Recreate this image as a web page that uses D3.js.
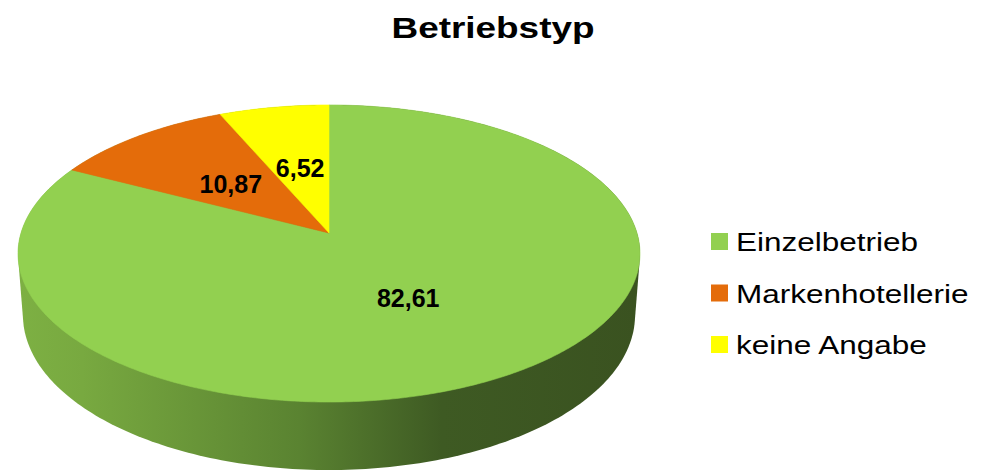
<!DOCTYPE html>
<html>
<head>
<meta charset="utf-8">
<script src="https://cdn.jsdelivr.net/npm/d3@7"></script>
<style>
  html, body { margin: 0; padding: 0; background: #fff; }
  svg { display: block; font-family: Arial, "Liberation Sans", sans-serif; }
</style>
</head>
<body>
<svg id="chart" width="986" height="475"></svg>
<script>
// Betriebstyp - 3D pie (Excel style) drawn with D3
var title = "Betriebstyp";
var categories = ["Einzelbetrieb", "Markenhotellerie", "keine Angabe"];
var values = [82.61, 10.87, 6.52];
var labels = ["82,61", "10,87", "6,52"];
var colors = ["#92d050", "#e46c0a", "#ffff00"];

var W = 986, H = 475;
var svg = d3.select("#chart");

// the source image is a bit wider than tall: text gets the same horizontal stretch
function stretch(sel, k) {
  var n = sel.node(), len = n.getComputedTextLength();
  sel.attr("textLength", len * k).attr("lengthAdjust", "spacingAndGlyphs");
  return sel;
}

// perspective projection of a unit disk (u right, v towards viewer, z down 0..1)
var cx = 329, cy = 233, A = 308, B = 145.7, P = 0.138, DEPTH = 62.4, SHRINK = 0.016;
function proj(t, r, z) {
  var u = r * Math.sin(t), v = -r * Math.cos(t);
  var w = 1 - P * v + SHRINK * z;
  return [cx + A * u / w, cy + (B * v + DEPTH * z) / w];
}

var pie = d3.pie().sort(null).value(function (d) { return d; });
var arcs = pie(values);

// side wall: hull of top and bottom rims, horizontal shading
var defs = svg.append("defs");
var grad = defs.append("linearGradient").attr("id", "side").attr("gradientUnits", "userSpaceOnUse")
  .attr("x1", 20).attr("x2", 640).attr("y1", 0).attr("y2", 0);
[[0, "#7db043"], [0.1, "#78a940"], [0.45, "#5a8331"], [0.68, "#3e5a23"], [1, "#3a5220"]].forEach(function (s) {
  grad.append("stop").attr("offset", s[0]).attr("stop-color", s[1]);
});
var rim = [];
d3.range(0, 360, 1).forEach(function (deg) {
  var t = deg * Math.PI / 180;
  rim.push(proj(t, 1, 0), proj(t, 1, 1));
});
svg.append("path").attr("d", "M" + d3.polygonHull(rim).join("L") + "Z").attr("fill", "url(#side)");

// top face slices
arcs.forEach(function (a, i) {
  var pts = [proj(0, 0, 0)];
  var n = Math.max(4, Math.ceil((a.endAngle - a.startAngle) * 90));
  d3.range(n + 1).forEach(function (k) {
    pts.push(proj(a.startAngle + (a.endAngle - a.startAngle) * k / n, 1, 0));
  });
  svg.append("path").attr("d", "M" + pts.join("L") + "Z")
    .attr("fill", colors[i]).attr("stroke", colors[i]).attr("stroke-width", 0.6);
});

// data labels at half radius
arcs.forEach(function (a, i) {
  var c = proj((a.startAngle + a.endAngle) / 2, 0.49, 0);
  svg.append("text").attr("x", c[0] - (i === 0 ? 4 : 0)).attr("y", c[1]).attr("dy", "0.37em")
    .attr("text-anchor", "middle").attr("font-size", 25).attr("font-weight", "bold")
    .attr("fill", "#000").text(labels[i]);
});

// title
stretch(svg.append("text").attr("x", W / 2).attr("y", 38).attr("text-anchor", "middle")
  .attr("font-size", 30).attr("font-weight", "bold").attr("fill", "#000").text(title), 1.23);

// legend
var lg = svg.append("g").attr("transform", "translate(711,233)");
var row = d3.scaleLinear().domain([0, 1]).range([0, 51.5]);
categories.forEach(function (c, i) {
  lg.append("rect").attr("x", 0).attr("y", row(i)).attr("width", 17).attr("height", 17).attr("fill", colors[i]);
  stretch(lg.append("text").attr("x", 25).attr("y", row(i) + 18).attr("font-size", 26)
    .attr("fill", "#000").text(c), 1.21);
});
</script>
</body>
</html>
